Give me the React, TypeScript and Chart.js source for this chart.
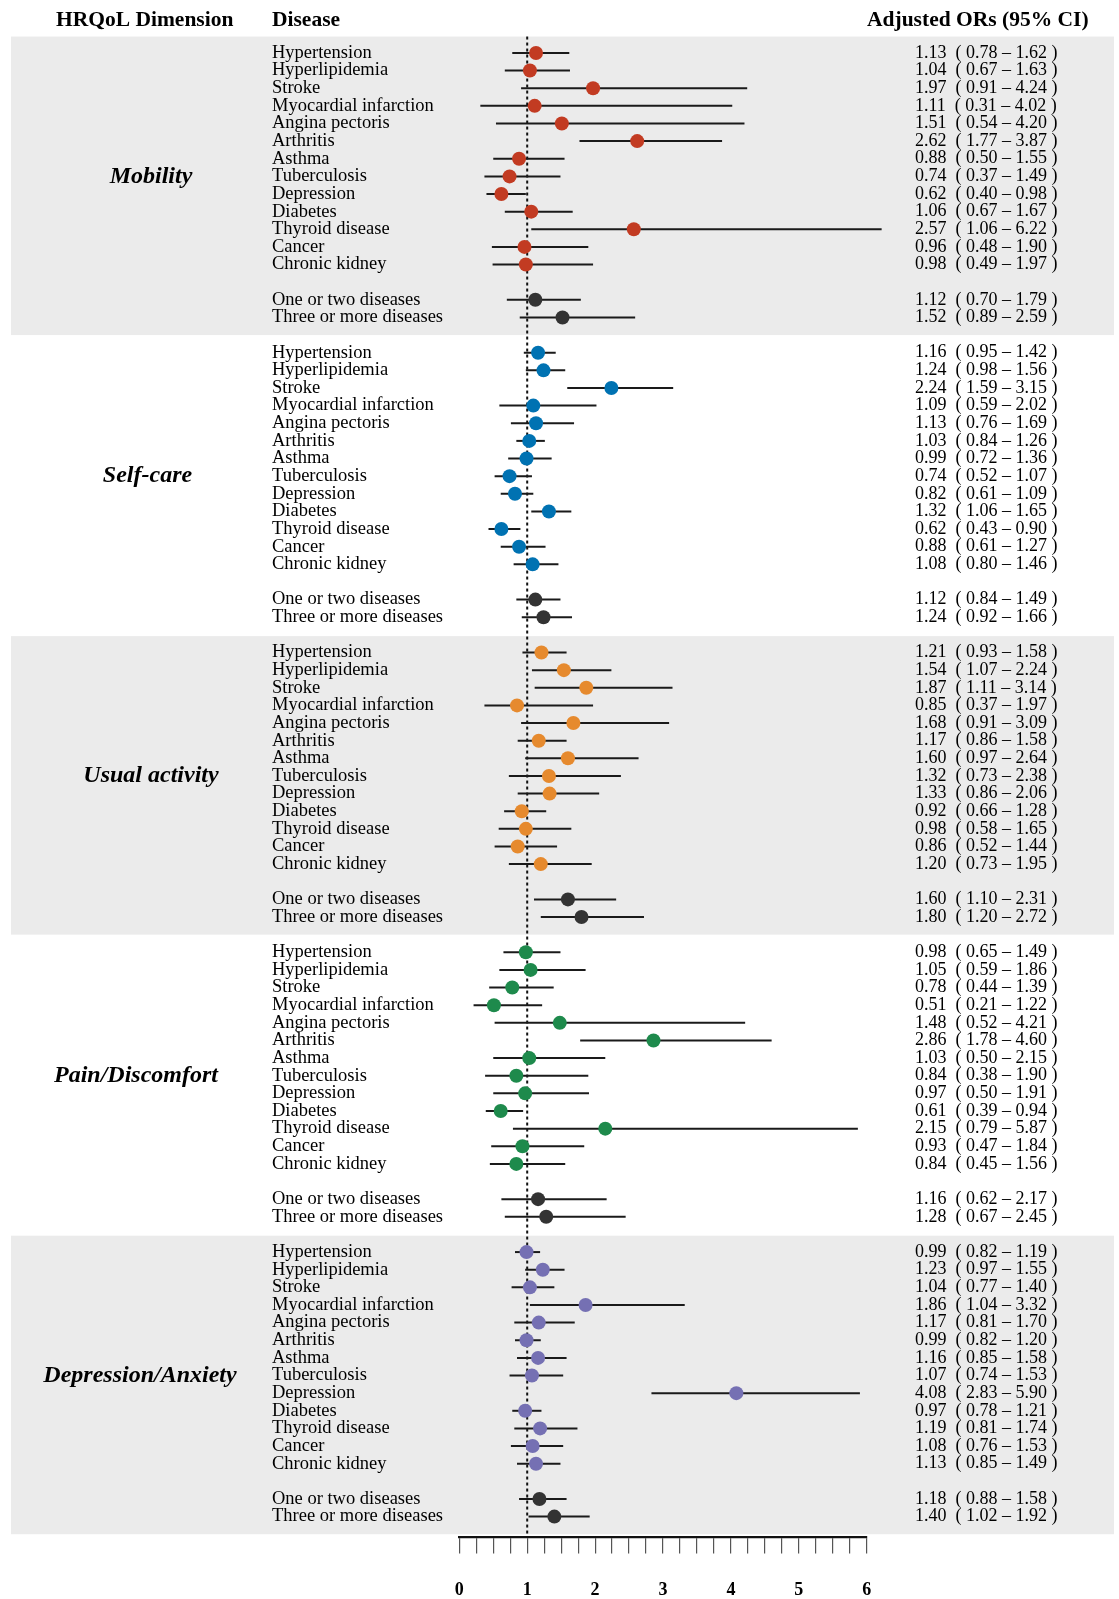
import React, { useEffect, useRef } from 'react';
import Chart from 'chart.js/auto';

// ---------- data ----------
const dimensions = ['Mobility', 'Self-care', 'Usual activity', 'Pain/Discomfort', 'Depression/Anxiety'];
const diseases = [
  'Hypertension', 'Hyperlipidemia', 'Stroke', 'Myocardial infarction', 'Angina pectoris',
  'Arthritis', 'Asthma', 'Tuberculosis', 'Depression', 'Diabetes', 'Thyroid disease',
  'Cancer', 'Chronic kidney',
];
const countGroups = ['One or two diseases', 'Three or more diseases'];

const mobilityOR = [1.13, 1.04, 1.97, 1.11, 1.51, 2.62, 0.88, 0.74, 0.62, 1.06, 2.57, 0.96, 0.98, 1.12, 1.52];
const mobilityLow = [0.78, 0.67, 0.91, 0.31, 0.54, 1.77, 0.50, 0.37, 0.40, 0.67, 1.06, 0.48, 0.49, 0.70, 0.89];
const mobilityHigh = [1.62, 1.63, 4.24, 4.02, 4.20, 3.87, 1.55, 1.49, 0.98, 1.67, 6.22, 1.90, 1.97, 1.79, 2.59];

const selfCareOR = [1.16, 1.24, 2.24, 1.09, 1.13, 1.03, 0.99, 0.74, 0.82, 1.32, 0.62, 0.88, 1.08, 1.12, 1.24];
const selfCareLow = [0.95, 0.98, 1.59, 0.59, 0.76, 0.84, 0.72, 0.52, 0.61, 1.06, 0.43, 0.61, 0.80, 0.84, 0.92];
const selfCareHigh = [1.42, 1.56, 3.15, 2.02, 1.69, 1.26, 1.36, 1.07, 1.09, 1.65, 0.90, 1.27, 1.46, 1.49, 1.66];

const usualOR = [1.21, 1.54, 1.87, 0.85, 1.68, 1.17, 1.60, 1.32, 1.33, 0.92, 0.98, 0.86, 1.20, 1.60, 1.80];
const usualLow = [0.93, 1.07, 1.11, 0.37, 0.91, 0.86, 0.97, 0.73, 0.86, 0.66, 0.58, 0.52, 0.73, 1.10, 1.20];
const usualHigh = [1.58, 2.24, 3.14, 1.97, 3.09, 1.58, 2.64, 2.38, 2.06, 1.28, 1.65, 1.44, 1.95, 2.31, 2.72];

const painOR = [0.98, 1.05, 0.78, 0.51, 1.48, 2.86, 1.03, 0.84, 0.97, 0.61, 2.15, 0.93, 0.84, 1.16, 1.28];
const painLow = [0.65, 0.59, 0.44, 0.21, 0.52, 1.78, 0.50, 0.38, 0.50, 0.39, 0.79, 0.47, 0.45, 0.62, 0.67];
const painHigh = [1.49, 1.86, 1.39, 1.22, 4.21, 4.60, 2.15, 1.90, 1.91, 0.94, 5.87, 1.84, 1.56, 2.17, 2.45];

const depressionOR = [0.99, 1.23, 1.04, 1.86, 1.17, 0.99, 1.16, 1.07, 4.08, 0.97, 1.19, 1.08, 1.13, 1.18, 1.40];
const depressionLow = [0.82, 0.97, 0.77, 1.04, 0.81, 0.82, 0.85, 0.74, 2.83, 0.78, 0.81, 0.76, 0.85, 0.88, 1.02];
const depressionHigh = [1.19, 1.55, 1.40, 3.32, 1.70, 1.20, 1.58, 1.53, 5.90, 1.21, 1.74, 1.53, 1.49, 1.58, 1.92];

const xTickLabels = ['0', '1', '2', '3', '4', '5', '6'];

// ---------- layout / style ----------
const W = 1119;
const H_VIEW = 1599;
const H_CANVAS = 1627;
const SERIF = '"Liberation Serif", "Times New Roman", Times, serif';
const ROWS_PER_BLOCK = 17;
const dimColors = ['#C23B22', '#0072B2', '#E68A2E', '#1E8A4C', '#7570B3'];
const countColor = '#333333';
const dimLabelCenterX = [151, 147.5, 151, 136, 140];
const labelNames = [...diseases, ...countGroups];

function rowOf(block: number, i: number) {
  return block * ROWS_PER_BLOCK + (i < diseases.length ? i : i + 1);
}

export default function App() {
  const ref = useRef<HTMLCanvasElement>(null);

  useEffect(() => {
    const canvas = ref.current!;
    const series = [
      { or: mobilityOR, lo: mobilityLow, hi: mobilityHigh },
      { or: selfCareOR, lo: selfCareLow, hi: selfCareHigh },
      { or: usualOR, lo: usualLow, hi: usualHigh },
      { or: painOR, lo: painLow, hi: painHigh },
      { or: depressionOR, lo: depressionLow, hi: depressionHigh },
    ];

    const datasets: any[] = [];
    series.forEach((s, k) => {
      s.or.forEach((_v, i) => {
        const y = rowOf(k, i);
        datasets.push({
          type: 'scatter',
          data: [{ x: s.lo[i], y }, { x: s.hi[i], y }],
          showLine: true,
          borderColor: '#1a1a1a',
          borderWidth: 2,
          pointRadius: 0,
          pointHoverRadius: 0,
          clip: false,
          order: 2,
        });
      });
      datasets.push({
        type: 'scatter',
        data: s.or.map((v, i) => ({ x: v, y: rowOf(k, i) })),
        pointRadius: 7,
        pointHoverRadius: 7,
        pointBackgroundColor: s.or.map((_v, i) => (i < diseases.length ? dimColors[k] : countColor)),
        pointBorderColor: s.or.map((_v, i) => (i < diseases.length ? dimColors[k] : countColor)),
        pointBorderWidth: 0,
        clip: false,
        order: 1,
      });
    });

    const decor = {
      id: 'decor',
      beforeDraw(chart: any) {
        const { ctx } = chart;
        const ys = chart.scales.y;
        ctx.save();
        // grey bands
        ctx.fillStyle = '#EBEBEB';
        [0, 2, 4].forEach((k) => {
          const top = ys.getPixelForValue(k * ROWS_PER_BLOCK - 0.93);
          const bot = ys.getPixelForValue(k * ROWS_PER_BLOCK + 16.0);
          ctx.fillRect(11, top, 1103, bot - top);
        });
        // headers
        ctx.fillStyle = '#000';
        ctx.textBaseline = 'middle';
        ctx.textAlign = 'left';
        ctx.font = `bold 21.5px ${SERIF}`;
        ctx.fillText('HRQoL Dimension', 56, 20);
        ctx.fillText('Disease', 272, 20);
        ctx.fillText('Adjusted ORs (95% CI)', 867, 20);
        // dimension labels
        ctx.font = `italic bold 24px ${SERIF}`;
        ctx.textAlign = 'center';
        dimensions.forEach((d, k) => {
          ctx.fillText(d, dimLabelCenterX[k], ys.getPixelForValue(k * ROWS_PER_BLOCK + 7));
        });
        // row labels and OR text
        ctx.textAlign = 'left';
        series.forEach((s, k) => {
          s.or.forEach((v, i) => {
            const py = ys.getPixelForValue(rowOf(k, i));
            ctx.font = `18.5px ${SERIF}`;
            ctx.fillText(labelNames[i], 272, py);
            ctx.font = `18px ${SERIF}`;
            ctx.fillText(
              `${v.toFixed(2)}  ( ${s.lo[i].toFixed(2)} \u2013 ${s.hi[i].toFixed(2)} )`,
              915,
              py
            );
          });
        });
        ctx.restore();
      },
      beforeDatasetsDraw(chart: any) {
        const { ctx, chartArea } = chart;
        const xs = chart.scales.x;
        const ys = chart.scales.y;
        const px = xs.getPixelForValue(1);
        ctx.save();
        ctx.strokeStyle = '#111';
        ctx.lineWidth = 2;
        ctx.setLineDash([3, 3]);
        ctx.beginPath();
        ctx.moveTo(px, ys.getPixelForValue(-0.93));
        ctx.lineTo(px, chartArea.bottom);
        ctx.stroke();
        ctx.restore();
      },
    };

    const chart = new Chart(canvas, {
      type: 'scatter',
      data: { datasets },
      options: {
        animation: false,
        responsive: false,
        events: [],
        layout: { padding: { left: 459.3, right: W - 866.7, top: 35.3, bottom: 0 } },
        plugins: { legend: { display: false }, tooltip: { enabled: false } },
        scales: {
          x: {
            type: 'linear',
            position: 'bottom',
            min: 0,
            max: 6,
            border: { display: true, color: '#111', width: 2.2 },
            grid: { drawOnChartArea: false, drawTicks: true, tickLength: 16, color: '#555', lineWidth: 1.2 },
            ticks: {
              stepSize: 0.25,
              autoSkip: false,
              maxRotation: 0,
              padding: 26,
              color: '#000',
              font: { family: SERIF, size: 18, weight: 'bold' },
              callback: (v: any) => {
                const n = Number(v);
                return Number.isInteger(n) ? xTickLabels[n] : '';
              },
            },
          },
          y: { type: 'linear', display: false, reverse: true, min: -1, max: 84.18 },
        },
      } as any,
      plugins: [decor],
    });
    return () => chart.destroy();
  }, []);

  return (
    <div style={{ position: 'absolute', left: 0, top: 0, width: W, height: H_VIEW, overflow: 'hidden', background: '#fff' }}>
      <canvas ref={ref} width={W} height={H_CANVAS} style={{ display: 'block', width: W, height: H_CANVAS }} />
    </div>
  );
}
